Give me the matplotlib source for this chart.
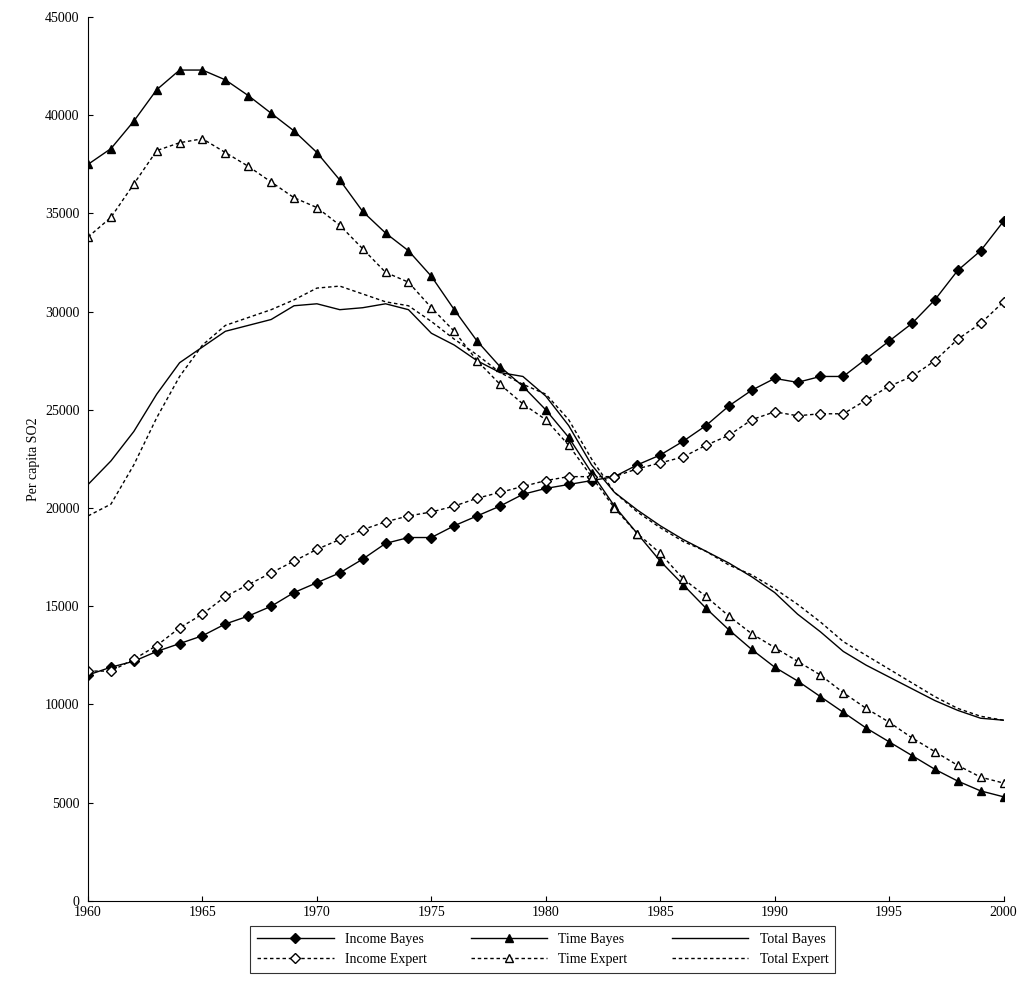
import matplotlib
matplotlib.use("Agg")
import matplotlib.pyplot as plt
import numpy as np

plt.rcParams["font.family"] = ["Liberation Serif", "DejaVu Serif"]

years = np.arange(1960, 2001)
income_bayes = [11500, 11900, 12200, 12700, 13100, 13500, 14100, 14500, 15000, 15700,
                16200, 16700, 17400, 18200, 18500, 18500, 19100, 19600, 20100, 20700,
                21000, 21200, 21400, 21600, 22200, 22700, 23400, 24200, 25200, 26000,
                26600, 26400, 26700, 26700, 27600, 28500, 29400, 30600, 32100, 33100, 34600]
time_bayes = [37500, 38300, 39700, 41300, 42300, 42300, 41800, 41000, 40100, 39200,
              38100, 36700, 35100, 34000, 33100, 31800, 30100, 28500, 27200, 26200,
              25000, 23600, 21800, 20100, 18700, 17300, 16100, 14900, 13800, 12800,
              11900, 11200, 10400, 9600, 8800, 8100, 7400, 6700, 6100, 5600, 5300]
total_bayes = [21200, 22400, 23900, 25800, 27400, 28200, 29000, 29300, 29600, 30300,
               30400, 30100, 30200, 30400, 30100, 28900, 28300, 27500, 26900, 26700,
               25700, 24200, 22200, 20800, 19900, 19100, 18400, 17800, 17200, 16500,
               15700, 14600, 13700, 12700, 12000, 11400, 10800, 10200, 9700, 9300, 9200]
income_expert = [11700, 11700, 12300, 13000, 13900, 14600, 15500, 16100, 16700, 17300,
                 17900, 18400, 18900, 19300, 19600, 19800, 20100, 20500, 20800, 21100,
                 21400, 21600, 21600, 21600, 22000, 22300, 22600, 23200, 23700, 24500,
                 24900, 24700, 24800, 24800, 25500, 26200, 26700, 27500, 28600, 29400, 30500]
time_expert = [33800, 34800, 36500, 38200, 38600, 38800, 38100, 37400, 36600, 35800,
               35300, 34400, 33200, 32000, 31500, 30200, 29000, 27500, 26300, 25300,
               24500, 23200, 21600, 20000, 18700, 17700, 16400, 15500, 14500, 13600,
               12900, 12200, 11500, 10600, 9800, 9100, 8300, 7600, 6900, 6300, 6000]
total_expert = [19600, 20200, 22200, 24600, 26700, 28300, 29300, 29700, 30100, 30600,
                31200, 31300, 30900, 30500, 30300, 29500, 28600, 27800, 26900, 26300,
                25800, 24500, 22500, 20800, 19800, 19000, 18300, 17800, 17100, 16600,
                15900, 15100, 14200, 13200, 12500, 11800, 11100, 10400, 9800, 9400, 9200]

fig = plt.figure(figsize=(10.24, 10.01), dpi=100)
ax = fig.add_axes([0.086, 0.1, 0.894, 0.883])

dash = (0, (2.5, 2))
ax.plot(years, income_bayes, "k-", marker="D", ms=5, lw=1, label="Income Bayes")
ax.plot(years, time_bayes, "k-", marker="^", ms=6, lw=1, label="Time Bayes")
ax.plot(years, total_bayes, "k-", lw=1, label="Total Bayes")
ax.plot(years, income_expert, color="k", ls=dash, marker="D", ms=5, mfc="white", lw=1,
        label="Income Expert")
ax.plot(years, time_expert, color="k", ls=dash, marker="^", ms=6, mfc="white", lw=1,
        label="Time Expert")
ax.plot(years, total_expert, color="k", ls=dash, lw=1, label="Total Expert")

ax.set_xlim(1960, 2000)
ax.set_ylim(0, 45000)
ax.set_xticks(range(1960, 2001, 5))
ax.set_yticks(range(0, 45001, 5000))
ax.spines["top"].set_visible(False)
ax.spines["right"].set_visible(False)
ax.tick_params(direction="in", labelsize=10)
ax.tick_params(axis="y", pad=6)
ax.set_ylabel("Per capita SO2", fontsize=10)

handles, labels = ax.get_legend_handles_labels()
order = [0, 3, 1, 4, 2, 5]
leg = fig.legend([handles[i] for i in order], [labels[i] for i in order],
                 ncol=3, loc="upper center", bbox_to_anchor=(0.53, 0.082),
                 fontsize=10, frameon=True, fancybox=False, edgecolor="k",
                 handlelength=5.5, columnspacing=3.2, borderpad=0.5, labelspacing=0.5)
leg.get_frame().set_linewidth(0.8)

fig.savefig("out.png", dpi=100)
